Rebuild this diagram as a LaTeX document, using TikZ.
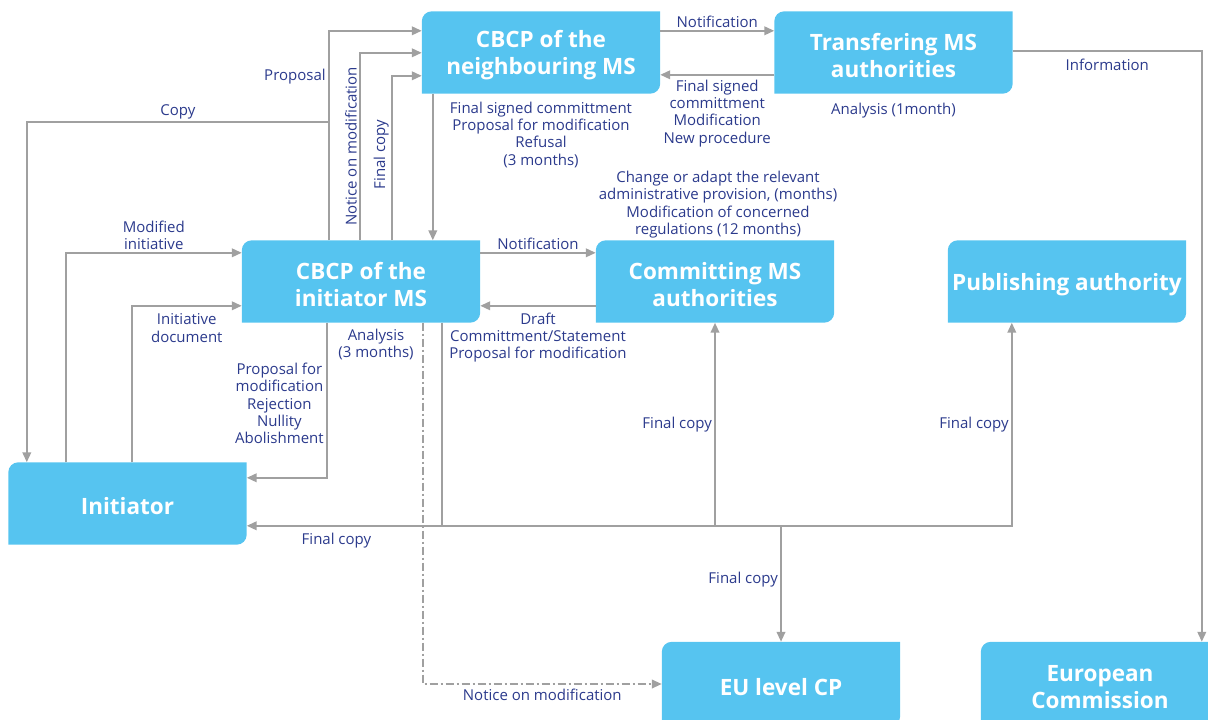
\documentclass[tikz,border=0pt]{standalone}
\usepackage{fontspec}
\setmainfont{Open Sans}
\usetikzlibrary{arrows.meta,positioning,backgrounds}
\definecolor{boxblue}{HTML}{56C4F0}
\definecolor{linegray}{HTML}{A0A0A0}
\definecolor{lblblue}{HTML}{2B3A8C}
\tikzset{
	box/.style={minimum width=238pt, minimum height=82pt, inner sep=0pt, label={[boxtext]center:#1}},
	boxtext/.style={yshift=-3pt, align=center, text=white, font=\fontsize{22.5}{27}\selectfont\bfseries},
	lbl/.style={text=lblblue, align=center, inner sep=2pt, font=\fontsize{15}{17.3}\selectfont},
	arr/.style={draw=linegray, line width=2.2pt, -{Triangle[length=10pt,width=8.5pt]}},
}

\begin{document}
\begin{tikzpicture}[x=1pt,y=1pt]
	\useasboundingbox (0,0) rectangle (1208,-720);
	% boxes
	\node[box={CBCP of the\\neighbouring MS}] (neigh) at (541,-52.5) {};
	\node[box={Transfering MS\\authorities}] (transf) at (893.5,-52.5) {};
	\node[box={CBCP of the\\initiator MS}] (cbcpinit) at (361,-281.5) {};
	\node[box={Committing MS\\authorities}] (commit) at (715,-281.5) {};
	\node[box={Publishing authority}] (publish) at (1067,-281.5) {};
	\node[box={Initiator}] (initiator) at (127.5,-503.5) {};
	\node[box={EU level CP}, minimum height=84pt] (eucp) at (781,-684) {};
	\node[box={European\\Commission}, minimum height=84pt] (ec) at (1100,-684) {};
	\begin{scope}[on background layer]
		\foreach \n in {neigh,transf,cbcpinit,commit,publish,initiator,eucp,ec}
			\fill[boxblue] (\n.south west) -- ([yshift=-10pt]\n.north west) arc[start angle=180, end angle=90, radius=10pt] -- (\n.north east) -- ([yshift=10pt]\n.south east) arc[start angle=0, end angle=-90, radius=10pt] -- cycle;
	\end{scope}
	% up to the neighbouring MS
	\draw[arr] ([xshift=87pt]cbcpinit.north west) |- node[lbl, left, pos=0.39] {Proposal} ([yshift=-19.5pt]neigh.north west);
	\draw[arr] ([xshift=118pt]cbcpinit.north west) |- node[lbl, above, rotate=90, pos=0.25] {Notice on modification} ([yshift=-41.5pt]neigh.north west);
	\draw[arr] ([xshift=150pt]cbcpinit.north west) |- node[lbl, above, rotate=90, pos=0.26] {Final copy} ([yshift=-64.5pt]neigh.north west);
	\coordinate (copyjoint) at (329,-122);
	\draw[arr] (copyjoint) -| node[lbl, above, pos=0.25] {Copy} ([xshift=18.5pt]initiator.north west);
	\coordinate (neighout) at ([xshift=11pt]neigh.south west);
	\draw[arr] (neighout) -- (neighout |- cbcpinit.north);
	\node[lbl, below=6pt of neigh] (neighnote) {Final signed committment\\Proposal for modification\\Refusal\\(3 months)};
	% neighbouring and transfering MS
	\draw[arr] ([yshift=-19.5pt]neigh.north east) -- node[lbl, above] {Notification} ([yshift=-19.5pt]transf.north west);
	\draw[arr] ([yshift=-63.5pt]transf.north west) -- node[lbl, below=2pt] {Final signed\\committment\\Modification\\New procedure} ([yshift=-63.5pt]neigh.north east);
	\node[lbl, below=7pt of transf] (transfnote) {Analysis (1month)};
	\draw[arr] ([yshift=-40pt]transf.north east) -| node[lbl, below=5pt, pos=0.25] {Information} ([xshift=221pt]ec.north west);
	% initiator and CBCP of the initiator MS
	\draw[arr] ([xshift=57.5pt]initiator.north west) |- node[lbl, above, pos=0.75] {Modified\\initiative} ([yshift=-12.5pt]cbcpinit.north west);
	\draw[arr] ([xshift=123.5pt]initiator.north west) |- node[lbl, below=5pt, pos=0.75] {Initiative\\document} ([yshift=-65.5pt]cbcpinit.north west);
	\draw[arr] ([xshift=85pt]cbcpinit.south west) |- node[lbl, left, pos=0.26] {Proposal for\\modification\\Rejection\\Nullity\\Abolishment} ([yshift=-15.5pt]initiator.north east);
	\node[lbl, below=4pt of cbcpinit.south, xshift=15pt] (initnote) {Analysis\\(3 months)};
	\draw[arr, dash pattern=on 8pt off 3pt on 2pt off 3pt] ([xshift=181pt]cbcpinit.south west) |- node[lbl, below=2pt, pos=0.75] {Notice on modification} (eucp.west);
	% committing MS
	\draw[arr] ([yshift=-12.5pt]cbcpinit.north east) -- node[lbl, above] {Notification} ([yshift=-12.5pt]commit.north west);
	\draw[arr] ([yshift=-65.5pt]commit.north west) -- node[lbl, below=4pt] {Draft\\Committment/Statement\\Proposal for modification} ([yshift=-65.5pt]cbcpinit.north east);
	\node[lbl, above=0pt of commit, xshift=3pt] (commitnote) {Change or adapt the relevant\\administrative provision, (months)\\Modification of concerned\\regulations (12 months)};
	% final copy
	\draw[arr] ([xshift=200pt]cbcpinit.south west) |- node[lbl, below=4pt, pos=0.77] {Final copy} ([yshift=-63.5pt]initiator.north east);
	\coordinate (fcbus) at (442,-526);
	\draw[arr] (fcbus) -| node[lbl, left, pos=0.75] {Final copy} ([xshift=64pt]publish.south west);
	\draw[arr] (fcbus -| commit.south) -- node[lbl, left] {Final copy} (commit.south);
	\draw[arr] (fcbus -| eucp.north) -- node[lbl, left, pos=0.46] {Final copy} (eucp.north);
\end{tikzpicture}
\end{document}
